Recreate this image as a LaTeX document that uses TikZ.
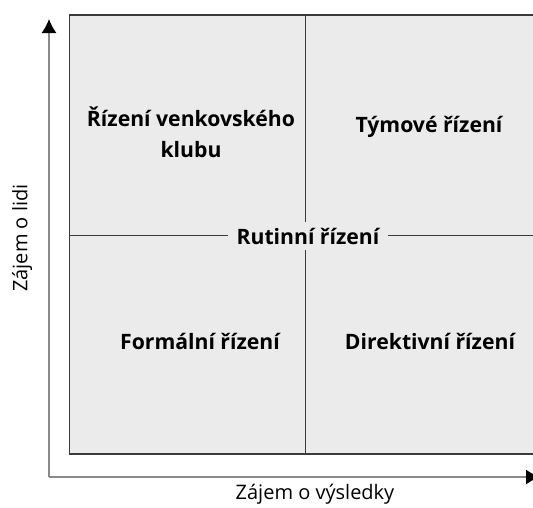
\documentclass[tikz,border=0pt]{standalone}
\usepackage{fontspec}
\setmainfont{Open Sans}
\usetikzlibrary{arrows.meta}
\definecolor{panel}{HTML}{EBEBEB}
\definecolor{frame}{HTML}{3A3A3A}
\definecolor{axisgray}{HTML}{8A8A8A}
\begin{document}
\begin{tikzpicture}[x=1pt,y=-1pt,
  quadlabel/.style={font=\fontsize{21.2}{31}\selectfont\bfseries, text=black, align=center, inner sep=0pt},
  axislabel/.style={font=\fontsize{20}{24}\selectfont, text=black, inner sep=0pt},
  axisline/.style={draw=axisgray, line width=1.3pt, -{Latex[length=14pt,width=15pt,color=black]}},
  divider/.style={draw=frame, line width=1pt}]
\useasboundingbox (0,0) rectangle (533,507);
\clip (0,0) rectangle (533,507);
% grid panel
\fill[panel] (69.5,15) rectangle (545,454);
\draw[frame, line width=1.5pt] (545,15) -- (69.5,15) -- (69.5,454) -- (545,454);
% quadrant dividers
\coordinate (vtop) at (305,15);
\coordinate (vbot) at (305,454);
\coordinate (hleft) at (69.5,235);
\coordinate (hright) at (545,235);
\draw[divider] (vtop) -- (vbot);
\draw[divider] (hleft) -- (hright);
% axes
\coordinate (origin) at (49,477);
\coordinate (ytip) at (49,19);
\coordinate (xtip) at (540,477);
\draw[axisline] (origin) -- (ytip);
\draw[axisline] (origin.center) -- (xtip);
% quadrant labels
\node[quadlabel] (country) at (191,132) {Řízení venkovského\\klubu};
\node[quadlabel] (team) at (429,127) {Týmové řízení};
\node[quadlabel, fill=panel, inner xsep=9pt, inner ysep=6pt] (routine) at (308,236) {Rutinní řízení};
\node[quadlabel] (formal) at (200,341) {Formální řízení};
\node[quadlabel] (directive) at (430,341) {Direktivní řízení};
% axis labels
\node[axislabel, rotate=90] (people) at (22,238) {Zájem o lidi};
\node[axislabel] (results) at (315,494) {Zájem o výsledky};
\end{tikzpicture}
\end{document}
